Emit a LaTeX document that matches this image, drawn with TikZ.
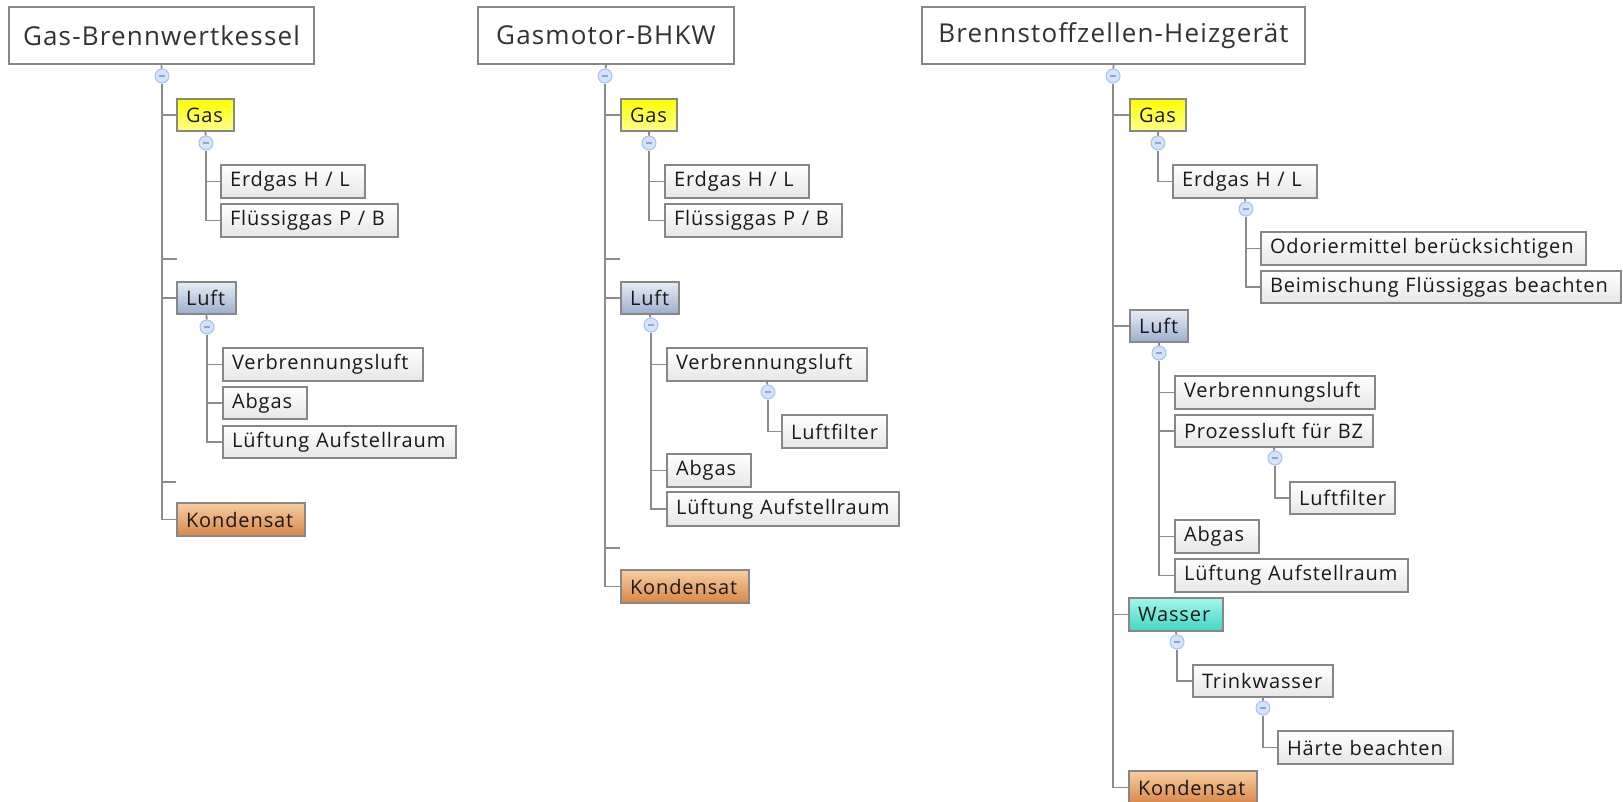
\documentclass[tikz,border=0pt]{standalone}
\usepackage{fontspec}
\setmainfont{Open Sans}[LetterSpace=4.5]
\usetikzlibrary{backgrounds}
\definecolor{lineg}{RGB}{140,140,140}
\definecolor{boxg}{RGB}{135,135,135}
\definecolor{leafbot}{RGB}{230,230,230}
\definecolor{gastop}{RGB}{255,255,0}
\definecolor{gasbot}{RGB}{255,255,140}
\definecolor{lufttop}{RGB}{230,236,246}
\definecolor{luftbot}{RGB}{156,174,206}
\definecolor{wastop}{RGB}{165,246,236}
\definecolor{wabot}{RGB}{64,214,196}
\definecolor{kontop}{RGB}{248,206,160}
\definecolor{konbot}{RGB}{216,134,72}
\definecolor{togfill}{RGB}{212,226,250}
\definecolor{togdraw}{RGB}{168,194,236}
\definecolor{togminus}{RGB}{140,165,210}
\definecolor{txt}{RGB}{25,25,25}
\newcommand\bx[7]{\node[#6, text width={#4-#2-18}, minimum height={#5-#3}] (#1) at ({(#2+#4)/2},{(#3+#5)/2}) {\mbox{#7}};}
\newcommand\rbx[7]{\node[#6, minimum width={#4-#2}, minimum height={#5-#3}] (#1) at ({(#2+#4)/2},{(#3+#5)/2}) {#7};}
\newcommand\tg[3]{\node[tog] (#1) at (#2,#3) {}; \draw[togminus, line width=1.1pt] ([xshift=-3pt]#1.center) -- ([xshift=3pt]#1.center);}
\tikzset{
  basebox/.style={rectangle, inner xsep=9pt, inner ysep=0pt, align=left, text=txt, font=\fontsize{20}{23}\selectfont, line width=1.3pt, draw=boxg},
  rootbox/.style={rectangle, inner sep=0pt, draw=boxg, fill=white, text={rgb,255:red,50;green,50;blue,50}, font=\fontsize{26}{30}\selectfont, line width=1.5pt},
  leaf/.style={basebox, top color=white, bottom color=leafbot},
  gasbox/.style={basebox, top color=gastop, bottom color=gasbot},
  luftbox/.style={basebox, top color=lufttop, bottom color=luftbot},
  wabox/.style={basebox, top color=wastop, bottom color=wabot},
  konbox/.style={basebox, top color=kontop, bottom color=konbot},
  tog/.style={circle, inner sep=0pt, minimum size=14pt, fill=togfill, draw=togdraw, line width=1pt},
  conn/.style={draw=lineg, line width=1.8pt},
}
\begin{document}
\begin{tikzpicture}[x=1pt,y=-1pt]
\useasboundingbox (0,0) rectangle (1623,801);
% ---------- Column 1
\rbx{root1}{9}{7}{314}{64}{rootbox}{Gas-Brennwertkessel}
\bx{gas1}{177}{99}{234}{131}{gasbox}{Gas}
\bx{erd1}{221}{165}{365}{198}{leaf}{Erdgas H / L}
\bx{fl1}{221}{204}{398}{237}{leaf}{Flüssiggas P / B}
\coordinate (s1a) at (177,259);
\bx{luft1}{177}{282}{236}{314}{luftbox}{Luft}
\bx{vb1}{223}{348}{423}{381}{leaf}{Verbrennungsluft}
\bx{ab1}{223}{387}{307}{419}{leaf}{Abgas}
\bx{lu1}{223}{426}{456}{458}{leaf}{Lüftung Aufstellraum}
\coordinate (s1b) at (176,482);
\bx{kon1}{177}{503}{305}{536}{konbox}{Kondensat}
\tg{c1}{162}{76}
\tg{cg1}{206}{143}
\tg{cl1}{207}{327}
% ---------- Column 2
\rbx{root2}{478}{7}{734}{64}{rootbox}{Gasmotor-BHKW}
\bx{gas2}{621}{99}{677}{131}{gasbox}{Gas}
\bx{erd2}{665}{165}{809}{198}{leaf}{Erdgas H / L}
\bx{fl2}{665}{204}{842}{237}{leaf}{Flüssiggas P / B}
\coordinate (s2a) at (620,259);
\bx{luft2}{621}{282}{679}{314}{luftbox}{Luft}
\bx{vb2}{667}{348}{867}{381}{leaf}{Verbrennungsluft}
\bx{lf2}{782}{415}{887}{448}{leaf}{Luftfilter}
\bx{ab2}{667}{454}{751}{487}{leaf}{Abgas}
\bx{lu2}{667}{492}{899}{526}{leaf}{Lüftung Aufstellraum}
\coordinate (s2b) at (620,548);
\bx{kon2}{621}{570}{749}{603}{konbox}{Kondensat}
\tg{c2}{605}{76}
\tg{cg2}{649}{143}
\tg{cl2}{651}{325}
\tg{cv2}{768}{392}
% ---------- Column 3
\rbx{root3}{922}{7}{1305}{64}{rootbox}{Brennstoffzellen-Heizgerät}
\bx{gas3}{1130}{99}{1186}{131}{gasbox}{Gas}
\bx{erd3}{1173}{165}{1317}{198}{leaf}{Erdgas H / L}
\bx{od3}{1261}{232}{1586}{265}{leaf}{Odoriermittel berücksichtigen}
\bx{bm3}{1261}{271}{1621}{303}{leaf}{Beimischung Flüssiggas beachten}
\bx{luft3}{1130}{310}{1188}{342}{luftbox}{Luft}
\bx{vb3}{1175}{376}{1375}{409}{leaf}{Verbrennungsluft}
\bx{pz3}{1175}{415}{1373}{447}{leaf}{Prozessluft für BZ}
\bx{lf3}{1290}{482}{1395}{514}{leaf}{Luftfilter}
\bx{ab3}{1175}{520}{1259}{553}{leaf}{Abgas}
\bx{lu3}{1175}{559}{1408}{592}{leaf}{Lüftung Aufstellraum}
\bx{wa3}{1129}{598}{1223}{631}{wabox}{Wasser}
\bx{tw3}{1193}{665}{1333}{697}{leaf}{Trinkwasser}
\bx{ha3}{1278}{731}{1453}{764}{leaf}{Härte beachten}
\bx{kon3}{1129}{771}{1257}{804}{konbox}{Kondensat}
\tg{c3}{1113}{76}
\tg{cg3}{1158}{143}
\tg{ce3}{1246}{209}
\tg{cl3}{1159}{353}
\tg{cp3}{1275}{458}
\tg{cw3}{1177}{642}
\tg{ct3}{1263}{708}
% ---------- connectors
\begin{scope}[on background layer]
\draw[conn] (root1.south) -- (c1);
\draw[conn] (c1) |- (gas1.west);
\draw[conn] (c1) |- (s1a);
\draw[conn] (c1) |- (luft1.west);
\draw[conn] (c1) |- (s1b);
\draw[conn] (c1) |- (kon1.west);
\draw[conn] (gas1.south) -- (cg1);
\draw[conn] (cg1) |- (erd1.west);
\draw[conn] (cg1) |- (fl1.west);
\draw[conn] (luft1.south) -- (cl1);
\draw[conn] (cl1) |- (vb1.west);
\draw[conn] (cl1) |- (ab1.west);
\draw[conn] (cl1) |- (lu1.west);
\draw[conn] (root2.south) -- (c2);
\draw[conn] (c2) |- (gas2.west);
\draw[conn] (c2) |- (s2a);
\draw[conn] (c2) |- (luft2.west);
\draw[conn] (c2) |- (s2b);
\draw[conn] (c2) |- (kon2.west);
\draw[conn] (gas2.south) -- (cg2);
\draw[conn] (cg2) |- (erd2.west);
\draw[conn] (cg2) |- (fl2.west);
\draw[conn] (luft2.south) -- (cl2);
\draw[conn] (cl2) |- (vb2.west);
\draw[conn] (cl2) |- (ab2.west);
\draw[conn] (cl2) |- (lu2.west);
\draw[conn] (vb2.south) -- (cv2);
\draw[conn] (cv2) |- (lf2.west);
\draw[conn] (root3.south) -- (c3);
\draw[conn] (c3) |- (gas3.west);
\draw[conn] (c3) |- (luft3.west);
\draw[conn] (c3) |- (wa3.west);
\draw[conn] (c3) |- (kon3.west);
\draw[conn] (gas3.south) -- (cg3);
\draw[conn] (cg3) |- (erd3.west);
\draw[conn] (erd3.south) -- (ce3);
\draw[conn] (ce3) |- (od3.west);
\draw[conn] (ce3) |- (bm3.west);
\draw[conn] (luft3.south) -- (cl3);
\draw[conn] (cl3) |- (vb3.west);
\draw[conn] (cl3) |- (pz3.west);
\draw[conn] (cl3) |- (ab3.west);
\draw[conn] (cl3) |- (lu3.west);
\draw[conn] (pz3.south) -- (cp3);
\draw[conn] (cp3) |- (lf3.west);
\draw[conn] (wa3.south) -- (cw3);
\draw[conn] (cw3) |- (tw3.west);
\draw[conn] (tw3.south) -- (ct3);
\draw[conn] (ct3) |- (ha3.west);
\end{scope}
\end{tikzpicture}
\end{document}
